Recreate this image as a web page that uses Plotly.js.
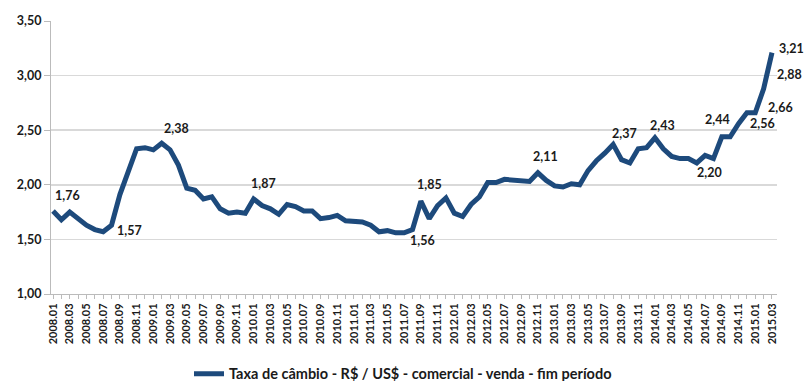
<!DOCTYPE html>
<html><head><meta charset="utf-8">
<script src="https://cdn.plot.ly/plotly-3.0.1.min.js"></script>
<style>html,body{margin:0;padding:0;background:#fff}#c{width:806px;height:381px}</style>
</head><body><div id="c"></div>
<script>
const months = [];
for (let y = 2008; y <= 2015; y++) for (let m = 1; m <= 12; m++) {
  if (y === 2015 && m > 3) break;
  months.push(y + '.' + String(m).padStart(2, '0'));
}
const rate = [
  1.76,1.68,1.75,1.69,1.63,1.59,1.57,1.63,1.91,2.12,2.33,2.34,
  2.32,2.38,2.32,2.18,1.97,1.95,1.87,1.89,1.78,1.74,1.75,1.74,
  1.87,1.81,1.78,1.73,1.82,1.80,1.76,1.76,1.69,1.70,1.72,1.67,
  1.67,1.66,1.63,1.57,1.58,1.56,1.56,1.59,1.85,1.69,1.81,1.88,
  1.74,1.71,1.82,1.89,2.02,2.02,2.05,2.04,2.03,2.03,2.11,2.04,
  1.99,1.98,2.01,2.00,2.13,2.22,2.29,2.37,2.23,2.20,2.33,2.34,
  2.43,2.33,2.26,2.24,2.24,2.20,2.27,2.24,2.44,2.44,2.56,2.66,
  2.66,2.88,3.21
];
const labelIdx = [0, 6, 13, 24, 42, 44, 58, 67, 72, 77, 80, 82, 84, 85, 86];
const labelShiftX = [14, 26, 15, 10, 18, 9, 8, 11, 8, 13, -4, 24, 25, 26, 20];
const labelShiftY = [16, 1, 15, 16, -8, 17, 16, 11, 12, -10, 17, 0, 5, 14, 4];
const seriesName = 'Taxa de câmbio - R$ / US$ - comercial - venda - fim período';

const tickText = months.map((m, i) => i % 2 === 0 ? m : '');
const fnt = {family: 'Lato, Liberation Sans, sans-serif', color: '#1a1a1a', weight: 700};

const annotations = labelIdx.map((i, k) => ({
  x: i, y: rate[i], xref: 'x', yref: 'y', showarrow: false,
  text: rate[i].toFixed(2).replace('.', ','),
  xshift: labelShiftX[k], yshift: labelShiftY[k],
  font: Object.assign({}, fnt, {size: 12.5})
}));

Plotly.newPlot('c', [{
  x: months, y: rate, type: 'scatter', mode: 'lines', name: seriesName,
  line: {color: '#1d4a7c', width: 5}
}], {
  width: 806, height: 381,
  margin: {l: 51, r: 29, t: 21, b: 87, autoexpand: false},
  separators: ',.',
  paper_bgcolor: '#fff', plot_bgcolor: '#fff',
  showlegend: true,
  legend: {orientation: 'h', xref: 'container', x: 0.5, xanchor: 'center', y: -0.292, yanchor: 'middle',
    font: Object.assign({}, fnt, {size: 14.5})},
  xaxis: {type: 'category', range: [-0.24, 86.6], tickmode: 'array', tickvals: months, ticktext: tickText,
    tickangle: -90, ticks: 'outside', ticklen: 4, tickcolor: '#bbb', showgrid: false, automargin: false,
    showline: true, linecolor: '#bbb', linewidth: 1,
    tickfont: Object.assign({}, fnt, {size: 11})},
  yaxis: {range: [1, 3.5], dtick: 0.5, tickformat: '.2f', ticks: 'outside', ticklen: 6, tickcolor: '#bbb',
    showgrid: true, gridcolor: '#d9d9d9', gridwidth: 1.5, zeroline: false, automargin: false,
    showline: true, linecolor: '#bbb', linewidth: 1,
    tickfont: Object.assign({}, fnt, {size: 12.5})},
  annotations: annotations
}, {displayModeBar: false, staticPlot: true});
</script></body></html>
